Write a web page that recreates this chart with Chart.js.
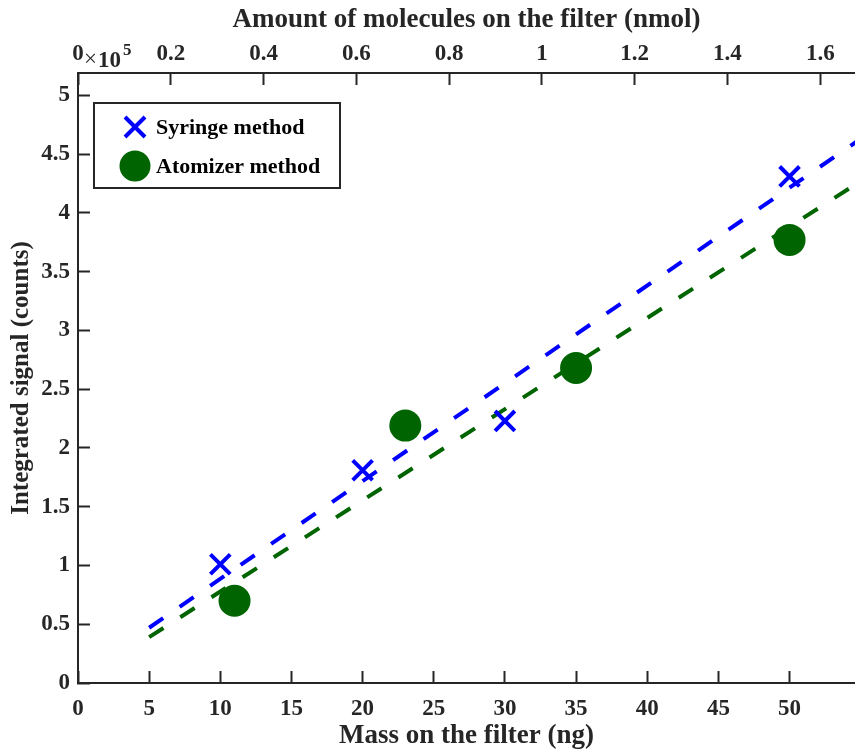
<!DOCTYPE html>
<html>
<head>
<meta charset="utf-8">
<title>Integrated signal vs. mass on the filter</title>
<script src="https://cdn.jsdelivr.net/npm/chart.js@4.4.0/dist/chart.umd.min.js"></script>
<style>
    body { margin: 0; background: #ffffff; }
    #wrap { width: 855px; height: 750px; }
</style>
</head>
<body>
<div id="wrap"><canvas id="signalChart" width="855" height="750"></canvas></div>
<script>
// Messwerte (Masse in ng, Signal in 1e5 counts)
const syringeMass = [10, 20, 30, 50];
const syringeSignal = [1.01, 1.81, 2.23, 4.31];
const atomizerMass = [11, 23, 35, 50];
const atomizerSignal = [0.70, 2.19, 2.68, 3.77];

const fitMass = [5, 55];
const syringeFit = [0.47, 4.63];
const atomizerFit = [0.39, 4.27];

// Achsen
const massMax = 54.6;
const signalMax = 5.19;
const ngPerNmol = 32.6;

const seriesLabels = ["Syringe method", "Atomizer method"];

const axisColor = "#262626";
const blue = "#0000ff";
const green = "#006400";
const fontFamily = "'Liberation Serif', 'Times New Roman', serif";

function toPoints(xs, ys) {
    return xs.map((x, i) => ({x: x, y: ys[i]}));
}

// kurze Zahlen ohne Nachkommanullen (1 statt 1.0)
function shortNumber(value) {
    return String(Math.round(value * 10) / 10);
}

function axisGrid() {
    return {
        drawOnChartArea: false,
        drawTicks: true,
        tickLength: -12,
        tickWidth: 2,
        tickColor: axisColor,
        color: axisColor
    };
}

function tickFont() {
    return {family: fontFamily, size: 23, weight: "bold"};
}

function titleFont(size) {
    return {family: fontFamily, size: size, weight: "bold", lineHeight: 1};
}

// Legende im Plotbereich (oben links, mit Rahmen)
const boxLegend = {
    id: "boxLegend",
    afterDraw(chart) {
        const ctx = chart.ctx;
        const area = chart.chartArea;
        const left = area.left + 16;
        const top = area.top + 30;
        ctx.save();
        ctx.fillStyle = "#ffffff";
        ctx.fillRect(left, top, 246, 85);
        ctx.strokeStyle = axisColor;
        ctx.lineWidth = 2;
        ctx.strokeRect(left, top, 246, 85);

        // Kreuz
        const cx = left + 41;
        const cy = top + 24;
        ctx.strokeStyle = blue;
        ctx.lineWidth = 4;
        ctx.beginPath();
        ctx.moveTo(cx - 10, cy - 10);
        ctx.lineTo(cx + 10, cy + 10);
        ctx.moveTo(cx - 10, cy + 10);
        ctx.lineTo(cx + 10, cy - 10);
        ctx.stroke();

        // Kreis
        const cy2 = top + 63;
        ctx.fillStyle = green;
        ctx.beginPath();
        ctx.arc(cx, cy2, 15.5, 0, Math.PI * 2);
        ctx.fill();

        ctx.fillStyle = "#000000";
        ctx.font = "bold 22px " + fontFamily;
        ctx.textBaseline = "middle";
        ctx.textAlign = "left";
        ctx.fillText(seriesLabels[0], left + 62, cy + 1);
        ctx.fillText(seriesLabels[1], left + 62, cy2 + 1);
        ctx.restore();
    }
};

// Exponent der y-Achse (x10^5)
const exponentLabel = {
    id: "exponentLabel",
    afterDraw(chart) {
        const ctx = chart.ctx;
        const area = chart.chartArea;
        ctx.save();
        ctx.fillStyle = axisColor;
        ctx.textBaseline = "middle";
        ctx.textAlign = "left";
        ctx.font = "23px " + fontFamily;
        ctx.fillText("\u00d7", area.left + 6, 60);
        ctx.font = "bold 23px " + fontFamily;
        ctx.fillText("10", area.left + 20, 61);
        ctx.font = "bold 17px " + fontFamily;
        ctx.fillText("5", area.left + 45, 51);
        ctx.restore();
    }
};

const ctx = document.getElementById("signalChart");
const signalChart = new Chart(ctx, {
    type: "scatter",
    data: {
        datasets: [{
            label: seriesLabels[0],
            data: toPoints(syringeMass, syringeSignal),
            pointStyle: "crossRot",
            pointRadius: 14,
            pointHoverRadius: 14,
            borderColor: blue,
            backgroundColor: blue,
            pointBorderWidth: 4,
            showLine: false
        }, {
            label: seriesLabels[1],
            data: toPoints(atomizerMass, atomizerSignal),
            pointStyle: "circle",
            pointRadius: 16,
            pointHoverRadius: 16,
            borderColor: green,
            backgroundColor: green,
            pointBorderWidth: 0,
            showLine: false
        }, {
            label: "Syringe fit",
            data: toPoints(fitMass, syringeFit),
            showLine: true,
            borderColor: blue,
            borderWidth: 4,
            borderDash: [17, 20],
            pointRadius: 0
        }, {
            label: "Atomizer fit",
            data: toPoints(fitMass, atomizerFit),
            showLine: true,
            borderColor: green,
            borderWidth: 4,
            borderDash: [17, 20],
            pointRadius: 0
        }]
    },
    options: {
        responsive: false,
        animation: false,
        layout: {padding: 0, autoPadding: false},
        plugins: {
            legend: {display: false},
            tooltip: {enabled: false}
        },
        scales: {
            x: {
                type: "linear",
                position: "bottom",
                min: 0,
                max: massMax,
                grid: axisGrid(),
                border: {display: true, color: axisColor, width: 2},
                ticks: {
                    stepSize: 5,
                    includeBounds: false,
                    maxRotation: 0,
                    padding: 24,
                    color: axisColor,
                    font: tickFont(),
                    callback: shortNumber
                },
                title: {
                    display: true,
                    text: "Mass on the filter (ng)",
                    color: axisColor,
                    font: titleFont(27),
                    padding: {top: 0, bottom: 0}
                },
                afterFit: (scale) => { scale.height = 67; }
            },
            x2: {
                type: "linear",
                position: "top",
                min: 0,
                max: massMax / ngPerNmol,
                grid: axisGrid(),
                border: {display: true, color: axisColor, width: 2},
                ticks: {
                    stepSize: 0.2,
                    includeBounds: false,
                    maxRotation: 0,
                    padding: 17,
                    color: axisColor,
                    font: tickFont(),
                    callback: shortNumber
                },
                title: {
                    display: true,
                    text: "Amount of molecules on the filter (nmol)",
                    color: axisColor,
                    font: titleFont(27),
                    padding: {top: 7, bottom: 0}
                },
                afterFit: (scale) => { scale.height = 73; }
            },
            y: {
                type: "linear",
                position: "left",
                min: 0,
                max: signalMax,
                grid: axisGrid(),
                border: {display: true, color: axisColor, width: 2},
                ticks: {
                    stepSize: 0.5,
                    includeBounds: false,
                    padding: 20,
                    color: axisColor,
                    font: tickFont(),
                    callback: shortNumber
                },
                title: {
                    display: true,
                    text: "Integrated signal (counts)",
                    color: axisColor,
                    font: titleFont(25),
                    padding: {top: 9, bottom: 0}
                },
                afterFit: (scale) => { scale.width = 78; }
            }
        }
    },
    plugins: [boxLegend, exponentLabel]
});
</script>
</body>
</html>
